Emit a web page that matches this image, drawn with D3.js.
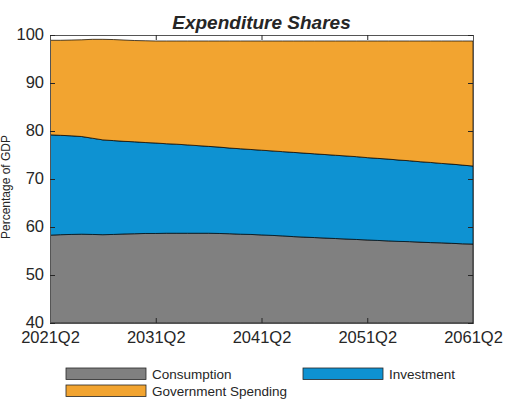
<!DOCTYPE html>
<html>
<head>
<meta charset="utf-8">
<script src="https://cdn.jsdelivr.net/npm/d3@7"></script>
<style>
  body { margin: 0; background: #fff; }
  text { font-family: "Liberation Sans", Arial, Helvetica, sans-serif; fill: #262626; }
</style>
</head>
<body>
<svg width="506" height="401"></svg>
<script>
const svg = d3.select("svg"),
      width = +svg.attr("width"),
      height = +svg.attr("height");

// annual points, each at Q2
const years = [2021, 2022, 2023, 2024, 2025, 2026, 2027, 2028, 2029, 2030,
               2031, 2032, 2033, 2034, 2035, 2036, 2037, 2038, 2039, 2040,
               2041, 2042, 2043, 2044, 2045, 2046, 2047, 2048, 2049, 2050,
               2051, 2052, 2053, 2054, 2055, 2056, 2057, 2058, 2059, 2060, 2061];

const consumption = [58.3, 58.4, 58.45, 58.5, 58.45, 58.4, 58.45, 58.55, 58.6, 58.65,
                     58.65, 58.7, 58.7, 58.7, 58.7, 58.7, 58.65, 58.6, 58.5, 58.45,
                     58.35, 58.25, 58.15, 58.0, 57.9, 57.8, 57.7, 57.6, 57.5, 57.4,
                     57.3, 57.2, 57.1, 57.0, 56.95, 56.85, 56.75, 56.7, 56.6, 56.5, 56.45];

const investment = [20.9, 20.7, 20.55, 20.35, 20.05, 19.75, 19.55, 19.3, 19.15, 18.95,
                    18.85, 18.65, 18.55, 18.4, 18.25, 18.1, 18.0, 17.85, 17.8, 17.7,
                    17.65, 17.6, 17.55, 17.55, 17.5, 17.45, 17.4, 17.35, 17.3, 17.25,
                    17.15, 17.1, 17.05, 16.95, 16.85, 16.75, 16.7, 16.55, 16.5, 16.4, 16.25];

const government = [19.7, 19.8, 19.95, 20.15, 20.6, 20.95, 21.05, 21.1, 21.1, 21.2,
                     21.25, 21.4, 21.5, 21.65, 21.8, 21.95, 22.1, 22.3, 22.45, 22.6,
                     22.75, 22.9, 23.05, 23.2, 23.35, 23.5, 23.65, 23.8, 23.95, 24.1,
                     24.3, 24.45, 24.6, 24.8, 24.95, 25.15, 25.3, 25.5, 25.65, 25.85, 26.05];

const seriesNames = ["Consumption", "Investment", "Government Spending"];
const colors = ["#808080", "#0e92d2", "#f2a430"];

const xTicks = [2021, 2031, 2041, 2051, 2061];
const yTicks = [40, 50, 60, 70, 80, 90, 100];

const margin = {left: 50, right: 33, top: 35, bottom: 78};
const x0 = margin.left, x1 = width - margin.right,
      y0 = height - margin.bottom, y1 = margin.top;

const x = d3.scaleLinear().domain([2021, 2061]).range([x0, x1]);
const y = d3.scaleLinear().domain([40, 100]).range([y0, y1]);

// rows for stacking
const rows = years.map((yr, i) => ({
    year: yr,
    "Consumption": consumption[i],
    "Investment": investment[i],
    "Government Spending": government[i]
}));
const stacked = d3.stack().keys(seriesNames)(rows);

svg.append("defs").append("clipPath").attr("id", "clip")
    .append("rect").attr("x", x0).attr("y", y1).attr("width", x1 - x0).attr("height", y0 - y1);

const area = d3.area()
    .x(d => x(d.data.year))
    .y0(d => y(d[0] === 0 ? 40 : d[0]))
    .y1(d => y(d[1]));

svg.append("g").attr("clip-path", "url(#clip)")
    .selectAll("path")
    .data(stacked)
    .enter().append("path")
    .attr("d", area)
    .attr("fill", (d, i) => colors[i])
    .attr("stroke", "#000")
    .attr("stroke-width", 0.7);

// axes, MATLAB style: ticks point inward, box all round
svg.append("g")
    .attr("transform", `translate(0,${y0})`)
    .call(d3.axisBottom(x).tickValues(xTicks).tickSize(-5).tickPadding(8).tickFormat(d => d + "Q2"))
    .call(g => g.selectAll("text").attr("font-size", 16.5).attr("dy", "0.71em"));

svg.append("g")
    .attr("transform", `translate(0,${y1})`)
    .call(d3.axisTop(x).tickValues(xTicks).tickSize(-5).tickFormat(""));

svg.append("g")
    .attr("transform", `translate(${x0},0)`)
    .call(d3.axisLeft(y).tickValues(yTicks).tickSize(-5).tickPadding(6))
    .call(g => g.selectAll("text").attr("font-size", 16.5).attr("dy", "0.3em"));

svg.append("g")
    .attr("transform", `translate(${x1},0)`)
    .call(d3.axisRight(y).tickValues(yTicks).tickSize(-5).tickFormat(""));

svg.selectAll(".domain").attr("stroke", "#555");
svg.selectAll(".tick line").attr("stroke", "#262626");
svg.selectAll(".tick text").attr("fill", "#262626").style("font-family", "'Liberation Sans', Arial, sans-serif");

// title and y label
svg.append("text")
    .attr("x", (x0 + x1) / 2)
    .attr("y", 29)
    .attr("text-anchor", "middle")
    .attr("font-size", 19)
    .attr("font-weight", "bold")
    .attr("font-style", "italic")
    .attr("fill", "#000")
    .text("Expenditure Shares");

svg.append("text")
    .attr("transform", `translate(10,${(y0 + y1) / 2 + 8}) rotate(-90)`)
    .attr("text-anchor", "middle")
    .attr("font-size", 12)
    .text("Percentage of GDP");

// legend
const legendPos = [[66, 368], [303, 368], [66, 385]];
const legend = svg.append("g").selectAll("g")
    .data(seriesNames)
    .enter().append("g")
    .attr("transform", (d, i) => `translate(${legendPos[i][0]},${legendPos[i][1]})`);

legend.append("rect")
    .attr("width", 80)
    .attr("height", 11.5)
    .attr("fill", (d, i) => colors[i])
    .attr("stroke", "#262626")
    .attr("stroke-width", 0.8);

legend.append("text")
    .attr("x", 86)
    .attr("y", 11)
    .attr("font-size", 13.5)
    .text(d => d);
</script>
</body>
</html>
